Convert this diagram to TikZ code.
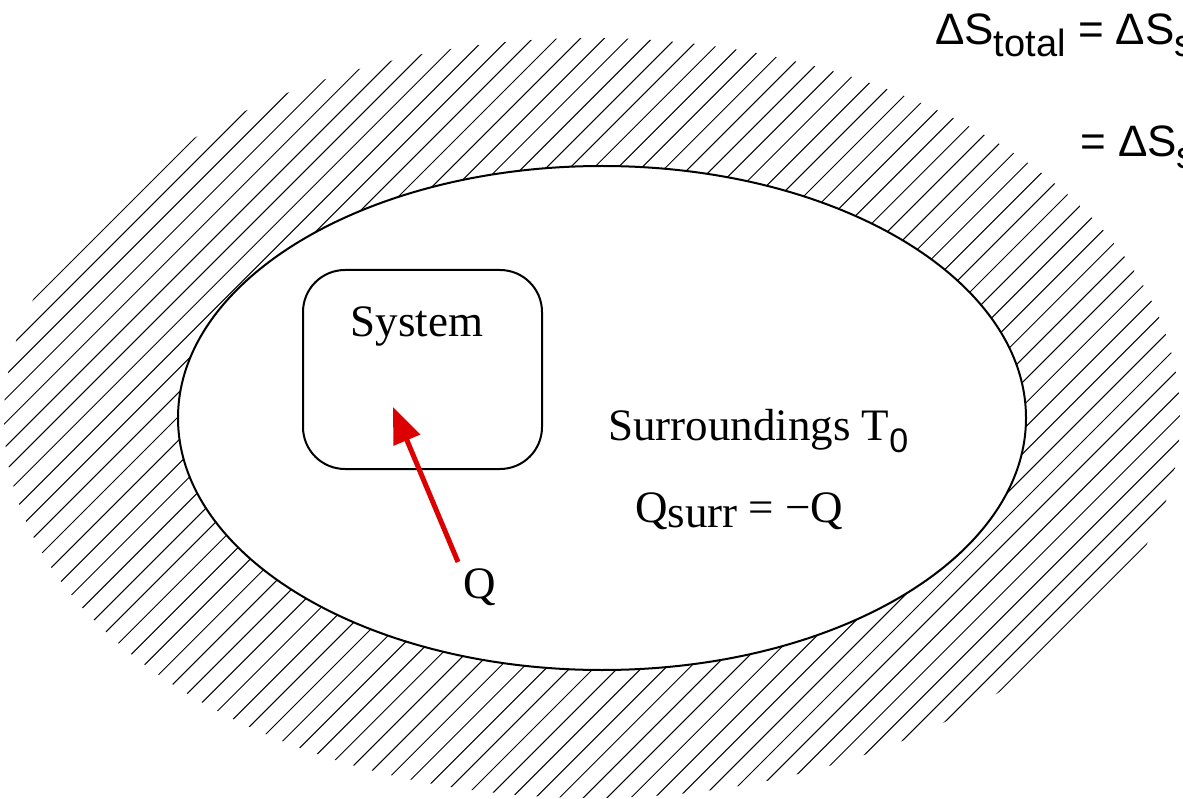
\documentclass[tikz,border=0pt]{standalone}
\usepackage{fontspec}
\setmainfont{Liberation Serif}
\newfontfamily\eqfont{Liberation Sans}
\usetikzlibrary{arrows.meta,shapes.geometric}
\definecolor{qred}{RGB}{221,0,0}
\tikzset{
  hatchline/.style={line width=1pt, black},
  lbl/.style={inner sep=0pt, font=\fontsize{45}{54}\selectfont},
  eqtxt/.style={inner sep=0pt, font=\eqfont\fontsize{44}{52}\selectfont},
  sysbox/.style={draw, line width=2pt, rounded corners=42pt, minimum width=239pt, minimum height=199pt, inner sep=0pt, fill=white},
  surrell/.style={draw, line width=2pt, fill=white},
  qarrow/.style={qred, line width=5pt, -{Triangle[length=36pt,width=28pt]}}
}
\begin{document}
\begin{tikzpicture}[x=1pt,y=-1pt]
\useasboundingbox (0,0) rectangle (1183,799);
\clip (0,0) rectangle (1183,799);
% hatched surroundings region
\begin{scope}
  \clip (592,418) ellipse [x radius=588pt, y radius=380pt];
  \foreach \k in {0,...,57}{
    \pgfmathsetmacro\cc{333+23.82*\k}
    \draw[hatchline] (\cc-850,850) -- (\cc+50,-50);
  }
\end{scope}
% surroundings ellipse
\draw[surrell] (602,418) ellipse [x radius=424pt, y radius=252pt];
% system box
\node[sysbox] (sys) at (422.5,369.5) {};
\node[lbl, anchor=base] (systxt) at (417,337) {System};
% labels
\node[lbl, anchor=base west] (surrtxt) at (608,440) {Surroundings T\raisebox{-12pt}{\eqfont\fontsize{34}{34}\selectfont 0}};
\node[lbl, anchor=base west] (qsurr) at (635,522) {Q\raisebox{-5pt}{surr} = −Q};
\node[lbl, anchor=base west] (q) at (463,598) {Q};
% heat arrow
\coordinate (tip) at (393,407);
\draw[qarrow] ([shift={(-5,-6)}]q.north west) -- (tip);
% equation (cut off at the right edge)
\node[eqtxt, anchor=base west] (eq1) at (935,45) {ΔS\raisebox{-12pt}{\fontsize{38}{38}\selectfont total} = ΔS\raisebox{-12pt}{\fontsize{38}{38}\selectfont s}};
\node[eqtxt, anchor=base west] (eq2) at (1080,157) {= ΔS\raisebox{-12pt}{\fontsize{38}{38}\selectfont s}};
\end{tikzpicture}
\end{document}
